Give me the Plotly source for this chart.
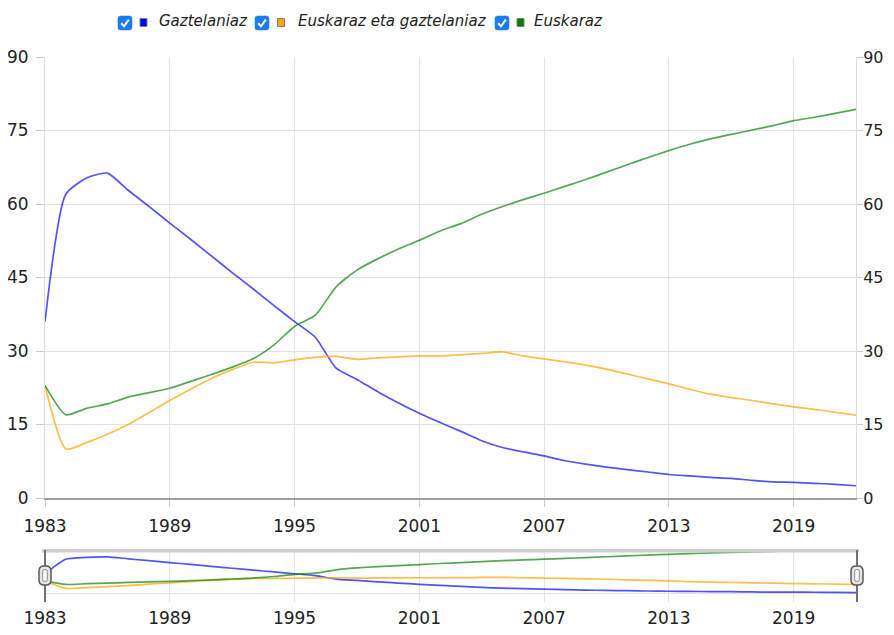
import plotly.graph_objects as go

years = list(range(1983, 2023))
gaztelaniaz = [36.0, 62.0, 65.3, 66.3, 62.8, 59.5, 56.1, 52.8, 49.4, 46.0,
               42.7, 39.3, 36.0, 32.8, 26.5, 24.2, 21.7, 19.4, 17.3, 15.4,
               13.6, 11.7, 10.3, 9.4, 8.6, 7.6, 6.9, 6.3, 5.8, 5.3,
               4.8, 4.5, 4.2, 4.0, 3.6, 3.3, 3.2, 3.0, 2.8, 2.5]
euskaraz_eta_gaztelaniaz = [23.0, 10.0, 11.3, 13.0, 15.0, 17.4, 19.9, 22.2, 24.4, 26.2,
                            27.7, 27.6, 28.2, 28.7, 28.9, 28.3, 28.6, 28.8, 29.0, 29.0,
                            29.2, 29.5, 29.8, 29.0, 28.4, 27.8, 27.1, 26.3, 25.3, 24.3,
                            23.3, 22.2, 21.2, 20.5, 19.9, 19.2, 18.6, 18.1, 17.5, 16.9]
euskaraz = [23.0, 17.0, 18.3, 19.2, 20.6, 21.5, 22.4, 23.8, 25.2, 26.7,
            28.4, 31.2, 35.0, 37.3, 43.1, 46.5, 48.8, 50.8, 52.6, 54.5,
            56.0, 57.9, 59.5, 60.9, 62.2, 63.6, 65.0, 66.5, 68.0, 69.5,
            70.9, 72.2, 73.3, 74.2, 75.1, 76.0, 77.0, 77.7, 78.5, 79.3]

series_names = ["Gaztelaniaz", "Euskaraz eta gaztelaniaz", "Euskaraz"]
series_values = [gaztelaniaz, euskaraz_eta_gaztelaniaz, euskaraz]
line_colors = ["rgba(0,0,255,0.68)", "rgba(255,165,0,0.72)", "rgba(0,128,0,0.68)"]
legend_colors = ["#0000ff", "#ffa500", "#008000"]

x_ticks = [1983, 1989, 1995, 2001, 2007, 2013, 2019]
y_ticks = [0, 15, 30, 45, 60, 75, 90]

FONT = "DejaVu Sans"
OFF = 8  # default page body margin
W, H = 894 - OFF, 635 - 2 * OFF
L, R, T, B = 45, 856, 57, 602   # plot-area edges in page pixels


def px(x):
    return (x - L) / (R - L)


def py(y):
    return (B - y) / (B - T)


def rrect(x0, y0, x1, y1, r):
    pts = [("M", [(x0 + r, y0)]), ("L", [(x1 - r, y0)]), ("Q", [(x1, y0), (x1, y0 + r)]),
           ("L", [(x1, y1 - r)]), ("Q", [(x1, y1), (x1 - r, y1)]), ("L", [(x0 + r, y1)]),
           ("Q", [(x0, y1), (x0, y1 - r)]), ("L", [(x0, y0 + r)]), ("Q", [(x0, y0), (x0 + r, y0)])]
    s = ""
    for cmd, ps in pts:
        s += cmd + " " + " ".join(f"{px(a):.5f},{py(b):.5f}" for a, b in ps) + " "
    return s + "Z"


def pline(points):
    return "M " + " L ".join(f"{px(a):.5f},{py(b):.5f}" for a, b in points)


main_bottom = py(498)
slider_top = py(550)

fig = go.Figure()

for name, vals, col in zip(series_names, series_values, line_colors):
    fig.add_trace(go.Scatter(x=years, y=vals, mode="lines", name=name,
                             line=dict(color=col, width=1.7, shape="spline", smoothing=0.6),
                             xaxis="x", yaxis="y", showlegend=False, hoverinfo="skip"))
for name, vals, col in zip(series_names, series_values, line_colors):
    fig.add_trace(go.Scatter(x=years, y=vals, mode="lines", name=name,
                             line=dict(color=col, width=1.7, shape="spline", smoothing=0.6),
                             xaxis="x2", yaxis="y2", showlegend=False, hoverinfo="skip"))
# right axis mirror
fig.add_trace(go.Scatter(x=[years[0]], y=[None], mode="lines", xaxis="x", yaxis="y3",
                         showlegend=False, hoverinfo="skip"))

tickfont = dict(family=FONT, size=17, color="#222")
grid = "#e2e2e2"

fig.update_layout(
    width=W, height=H,
    margin=dict(l=L - OFF, r=W - (R - OFF), t=T - OFF, b=H - (B - OFF), autoexpand=False),
    paper_bgcolor="white", plot_bgcolor="white",
    showlegend=False,
    xaxis=dict(domain=[0, 1], anchor="y", range=[1983, 2022], tickvals=x_ticks,
               ticktext=[str(v) for v in x_ticks], showgrid=True, gridcolor=grid,
               ticks="outside", ticklen=7, tickcolor="#cccccc", tickfont=tickfont,
               showline=True, linecolor="#a0a0a0", linewidth=1.5, zeroline=False,
               ticklabelstandoff=5, automargin=False),
    yaxis=dict(domain=[main_bottom, 1], anchor="x", range=[0, 90], tickvals=y_ticks,
               showgrid=True, gridcolor=grid, ticks="outside", ticklen=8,
               tickcolor="#cccccc", tickfont=tickfont, showline=True, linecolor="#dddddd",
               zeroline=False, ticklabelstandoff=4, automargin=False),
    yaxis3=dict(overlaying="y", side="right", anchor="x", range=[0, 90], tickvals=y_ticks,
                showgrid=False, ticks="outside", ticklen=6, tickcolor="#cccccc",
                tickfont=dict(family=FONT, size=16, color="#222"), showline=True,
                linecolor="#dddddd", zeroline=False, ticklabelstandoff=-3, automargin=False),
    xaxis2=dict(domain=[0, 1], anchor="y2", range=[1983, 2022], tickvals=x_ticks,
                ticktext=[str(v) for v in x_ticks], showgrid=True, gridcolor=grid,
                ticks="", tickfont=tickfont, showline=False, zeroline=False,
                ticklabelstandoff=4, automargin=False),
    yaxis2=dict(domain=[0, slider_top], anchor="x2", range=[-14.4, 78.6], tickvals=[0],
                showticklabels=False, showgrid=True, gridcolor=grid, zeroline=False,
                showline=False, ticks="", automargin=False),
)

shapes = []
# slider frame
shapes.append(dict(type="rect", xref="paper", yref="paper", x0=px(42), x1=px(859),
                   y0=py(552.5), y1=py(549), fillcolor="#cfcfcf", line=dict(width=0),
                   layer="above"))
for xx in (45, 857):
    shapes.append(dict(type="line", xref="paper", yref="paper", x0=px(xx), x1=px(xx),
                       y0=py(550), y1=py(602), line=dict(color="#707070", width=2),
                       layer="above"))
    shapes.append(dict(type="path", xref="paper", yref="paper",
                       path=rrect(xx - 6, 566, xx + 6, 585, 5),
                       fillcolor="#e6e6e6", line=dict(color="#5a5a5a", width=1.5),
                       layer="above"))
    shapes.append(dict(type="path", xref="paper", yref="paper",
                       path=rrect(xx - 2.3, 569.5, xx + 2.3, 581.5, 2),
                       fillcolor="#ffffff", line=dict(color="#8a8a8a", width=1),
                       layer="above"))

# legend
cb_x = [118, 255, 495]
sq_x = [140, 277.5, 517]
txt_x = [157, 295.5, 532]
annotations = []
for i in range(3):
    c = cb_x[i]
    shapes.append(dict(type="path", xref="paper", yref="paper",
                       path=rrect(c, 16, c + 14, 30, 2.5),
                       fillcolor="#1a7cf0", line=dict(color="#1a7cf0", width=0.5),
                       layer="above"))
    shapes.append(dict(type="path", xref="paper", yref="paper",
                       path=pline([(c + 3.2, 23.3), (c + 6, 26.3), (c + 10.8, 19.6)]),
                       line=dict(color="white", width=2), layer="above"))
    s = sq_x[i]
    shapes.append(dict(type="rect", xref="paper", yref="paper", x0=px(s), x1=px(s + 7),
                       y0=py(26.5), y1=py(18.5), fillcolor=legend_colors[i],
                       line=dict(color="#808080", width=1), layer="above"))
    annotations.append(dict(text=series_names[i], xref="paper", yref="paper",
                            x=px(txt_x[i]), y=py(21.5), xanchor="left", yanchor="middle",
                            showarrow=False,
                            font=dict(family=FONT, size=15, color="#222", style="italic")))

fig.update_layout(shapes=shapes, annotations=annotations)

fig.write_html("out.html")
